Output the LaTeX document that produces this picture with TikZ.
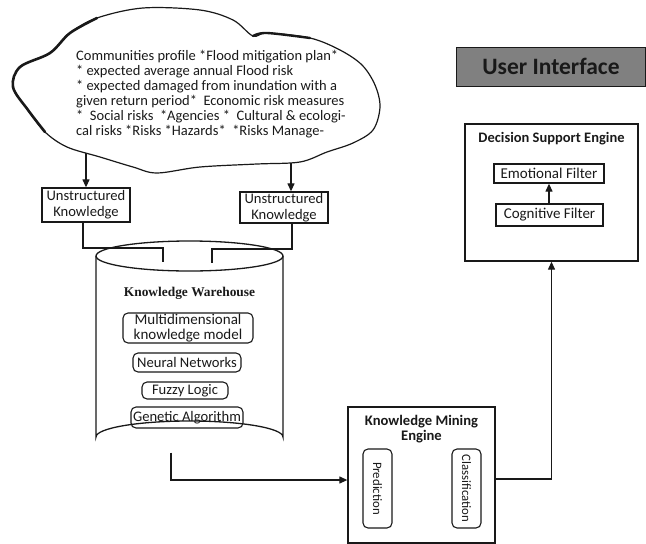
\documentclass[tikz,border=0pt]{standalone}
\usepackage{fontspec}
\setmainfont{Carlito}
\newfontfamily\timesb{Liberation Serif}
\usetikzlibrary{arrows.meta,shapes.geometric}
\definecolor{uigray}{RGB}{128,128,128}
\definecolor{ink}{RGB}{25,25,25}
\tikzset{
  box/.style={draw=ink, line width=1.3pt, align=center, inner sep=1pt, text=ink},
  rbox/.style={draw=ink, line width=1.1pt, rounded corners=5pt, align=center, inner sep=1pt, text=ink},
  conn/.style={draw=ink, line width=1.2pt},
  arr/.style={conn, -{Triangle[length=8pt,width=7pt]}},
  txt/.style={font=\fontsize{14.6}{16}\selectfont},
}
\begin{document}
\begin{tikzpicture}[x=1pt,y=-1pt]
\useasboundingbox (0,0) rectangle (646,544);

% cloud
\draw[ink, line width=1.2pt] plot[smooth cycle, tension=0.55] coordinates {
 (13,87) (20,67) (50,53) (70,33) (97,18) (143,8) (200,10) (233,20) (253,36) (267,33)
 (310,38) (340,50) (362,65) (375,85) (380,107) (373,130) (353,143) (327,152) (300,162)
 (257,164) (200,167) (157,173) (133,167) (100,157) (67,147) (45,132) (28,110)};
\draw[ink, line width=2.6pt, line cap=round] plot[smooth, tension=0.55] coordinates {
 (45,132) (28,110) (13,87) (20,67) (50,53) (70,33) (97,18)};
\draw[ink, line width=2.4pt, line cap=round] plot[smooth, tension=0.55] coordinates {
 (253,36) (267,33) (310,38)};
\node[anchor=north west, align=left, text=ink, inner sep=0pt,
      font=\fontsize{14.5}{15}\selectfont] (cloudtext) at (76,50)
 {Communities profile *Flood mitigation plan*\\
  * expected average annual Flood risk\\
  * expected damaged from inundation with a\\
  given return period*\ \ Economic risk measures\\
  *\ \ Social risks\ \ *Agencies *\ \ Cultural \& ecologi-\\
  cal risks *Risks *Hazards*\ \ *Risks Manage-};
\coordinate (c1) at (86,153);
\coordinate (c2) at (291,163);

% unstructured knowledge boxes
\node[box, txt, minimum width=88pt, minimum height=34pt] (uk1) at (86,205) {Unstructured\\Knowledge};
\node[box, txt, minimum width=88pt, minimum height=31pt] (uk2) at (284,207.5) {Unstructured\\Knowledge};
\draw[arr] (c1) -- (c1 |- uk1.north);
\draw[arr] (c2) -- (c2 |- uk2.north);

% cylinder
\draw[ink, line width=1.3pt] (96,256) -- (96,437) arc[start angle=180, end angle=360, x radius=93.5, y radius=16] -- (283,256);
\draw[ink, line width=1.3pt] (189.5,256) ellipse [x radius=93.5, y radius=15];
\node[text=ink, font=\timesb\bfseries\fontsize{13.4}{15}\selectfont] (kwt) at (189.5,293) {Knowledge Warehouse};
\coordinate (in1) at (163,262);
\coordinate (in2) at (212,263);
\coordinate (j1) at (0,248);
\coordinate (j2) at (0,249);
\draw[conn] (uk1.south -| 83,0) -- (83,248) -- (in1 |- j1) -- (in1);
\draw[conn] (uk2.south -| 292,0) -- (292,249) -- (in2 |- j2) -- (in2);

\node[rbox, font=\fontsize{15}{15}\selectfont, minimum width=130pt, minimum height=30pt] (mkm) at (188,328) {Multidimensional\\knowledge model};
\node[rbox, txt, minimum width=108pt, minimum height=19pt] (nn) at (187,362.5) {Neural Networks};
\node[rbox, txt, minimum width=86pt, minimum height=17pt] (fl) at (185,390.5) {Fuzzy Logic};
\node[rbox, txt, minimum width=112pt, minimum height=21pt] (ga) at (187,417.5) {Genetic Algorithm};

% knowledge mining engine
\node[box, minimum width=147pt, minimum height=136pt] (kme) at (421.5,475) {};
\node[text=ink, font=\bfseries\fontsize{14.6}{15}\selectfont, align=center] (kmet) at (421.5,429.5) {Knowledge Mining\\Engine};
\node[rbox, minimum width=29pt, minimum height=79pt] (pred) at (377.5,488.5) {};
\node[text=ink, rotate=-90, font=\fontsize{12.8}{14}\selectfont] (predt) at (pred.center) {Prediction};
\node[rbox, minimum width=29pt, minimum height=79pt] (cls) at (466.5,488.5) {};
\node[text=ink, rotate=-90, font=\fontsize{12.8}{14}\selectfont] (clst) at (cls.center) {Classification};

\coordinate (kwout) at (171,452.7);
\coordinate (ym) at (0,480);
\draw[arr] (kwout) |- (kme.west |- ym);

% decision support engine
\node[box, minimum width=173pt, minimum height=137pt] (dse) at (551.5,192.5) {};
\node[text=ink, font=\bfseries\fontsize{14.5}{15}\selectfont] (dset) at (551.5,139) {Decision Support Engine};
\node[box, font=\fontsize{15}{16}\selectfont, minimum width=110pt, minimum height=19pt] (emo) at (549,173.5) {Emotional Filter};
\node[box, font=\fontsize{15}{16}\selectfont, minimum width=107pt, minimum height=22pt] (cog) at (549.5,215) {Cognitive Filter};
\draw[arr] (cog.north -| emo.south) -- (emo.south);
\coordinate (ym2) at (0,479);
\draw[arr] (kme.east |- ym2) -| (dse.south);

% user interface
\node[draw=ink, line width=1pt, fill=uigray, minimum width=189pt, minimum height=39pt,
      text=ink, font=\bfseries\fontsize{23.5}{26}\selectfont] (ui) at (551,66.5) {User Interface};
\end{tikzpicture}
\end{document}
